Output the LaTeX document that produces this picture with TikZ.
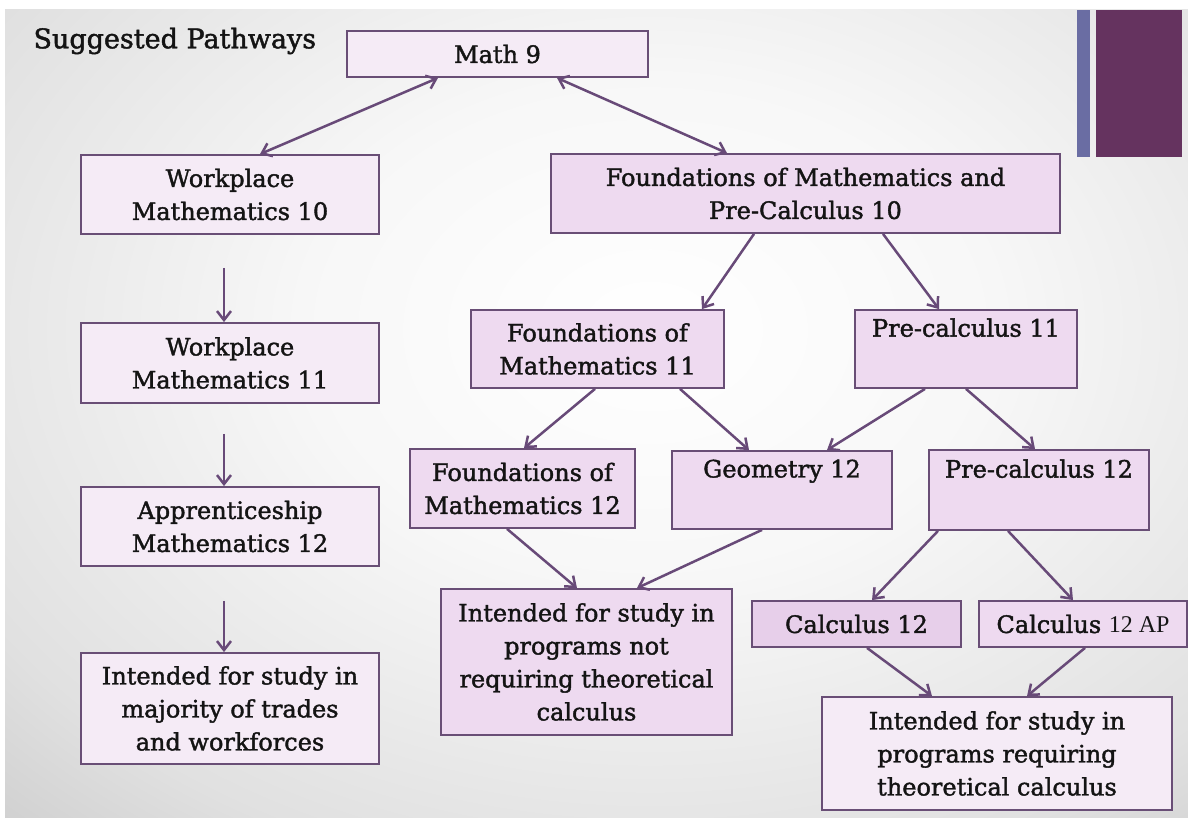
\documentclass[tikz,border=0pt]{standalone}
\usepackage{fontspec}
\setmainfont{DejaVu Serif}[FakeBold=1.6]
\newfontfamily\apfont{Liberation Serif}
\usepackage{tikz}
\usetikzlibrary{arrows.meta}
\definecolor{boxline}{RGB}{105,78,118}
\definecolor{boxfill}{RGB}{238,218,240}
\definecolor{lightfill}{RGB}{245,235,246}
\definecolor{darkfill}{RGB}{231,207,234}
\definecolor{arrowc}{RGB}{104,74,120}
\definecolor{barblue}{RGB}{106,109,163}
\definecolor{barpurple}{RGB}{101,51,95}
\pgfdeclareradialshading{slidebg}{\pgfpoint{0bp}{0bp}}{color(0bp)=(white); color(10bp)=(black!3); color(22.5bp)=(black!12); color(35bp)=(black!28); color(50bp)=(black!44)}

\begin{document}
\begin{tikzpicture}[x=1pt,y=-1pt,>={Straight Barb[length=9pt,width=14pt]},
		pathbox/.style={draw=boxline,line width=1.8pt,fill=boxfill,inner sep=0pt,align=center,text=black!92,font=\fontsize{24}{33}\selectfont},
		lightbox/.style={pathbox,fill=lightfill},
		flow/.style={draw=arrowc,line width=2.5pt,->}]
		\useasboundingbox (0,0) rectangle (1188,818);
		\fill[white] (0,0) rectangle (1188,818);
		\begin{scope}
			\clip (5,10) rectangle (1188,818);
			\shade[shading=slidebg] (-210,-290) rectangle (1510,950);
		\end{scope}
		\fill[barblue] (1077,10) rectangle (1090,157);
		\fill[barpurple] (1096,10) rectangle (1182,157);
		\node[anchor=west,text=black!92,font=\fontsize{27}{30}\selectfont] (title) at (30,41) {Suggested Pathways};
		\node[lightbox,minimum width=301pt,minimum height=46pt] (math9) at (497.5,54) {Math 9};
		\node[lightbox,minimum width=298pt,minimum height=79pt] (wm10) at (230,194.5) {Workplace\\Mathematics 10};
		\node[pathbox,minimum width=509pt,minimum height=79pt] (fpc10) at (805.5,193.5) {Foundations of Mathematics and\\Pre-Calculus 10};
		\node[lightbox,minimum width=298pt,minimum height=80pt] (wm11) at (230,363) {Workplace\\Mathematics 11};
		\node[pathbox,minimum width=253pt,minimum height=78pt] (fom11) at (597.5,349) {Foundations of\\Mathematics 11};
		\node[pathbox,minimum width=222pt,minimum height=78pt] (pc11) at (966,349) {Pre-calculus 11\\\strut};
		\node[lightbox,minimum width=298pt,minimum height=79pt] (app12) at (230,526.5) {Apprenticeship\\Mathematics 12};
		\node[pathbox,minimum width=225pt,minimum height=79pt] (fom12) at (522.5,488.5) {Foundations of\\Mathematics 12};
		\node[pathbox,minimum width=220pt,minimum height=78pt] (geo12) at (782,490) {Geometry 12\\\strut};
		\node[pathbox,minimum width=220pt,minimum height=80pt] (pc12) at (1039,490) {Pre-calculus 12\\\strut};
		\node[pathbox,minimum width=291pt,minimum height=146pt] (intnot) at (586.5,662) {Intended for study in\\programs not\\requiring theoretical\\calculus};
		\node[pathbox,fill=darkfill,minimum width=209pt,minimum height=46pt] (calc12) at (856.5,624) {Calculus 12};
		\node[pathbox,minimum width=208pt,minimum height=46pt] (calcap) at (1083,624) {Calculus {\apfont 12 AP}};
		\node[lightbox,minimum width=298pt,minimum height=111pt] (inttrades) at (230,708.5) {Intended for study in\\majority of trades\\and workforces};
		\node[pathbox,fill=lightfill,minimum width=350pt,minimum height=113pt] (intreq) at (997,753.5) {Intended for study in\\programs requiring\\theoretical calculus};
		\draw[flow,<->] ([xshift=-59.5pt]math9.south) -- ([xshift=30pt]wm10.north);
		\draw[flow,<->] ([xshift=59.5pt]math9.south) -- ([xshift=-78.5pt]fpc10.north);
		\draw[flow,shorten <=33pt] ([xshift=-6pt]wm10.south) -- ([xshift=-6pt]wm11.north);
		\draw[flow,shorten <=30pt] ([xshift=-6pt]wm11.south) -- ([xshift=-6pt]app12.north);
		\draw[flow,shorten <=34pt] ([xshift=-6pt]app12.south) -- ([xshift=-6pt]inttrades.north);
		\draw[flow] ([xshift=-51.5pt]fpc10.south) -- ([xshift=104.5pt]fom11.north);
		\draw[flow] ([xshift=77.5pt]fpc10.south) -- ([xshift=-27pt]pc11.north);
		\draw[flow] ([xshift=-2.5pt]fom11.south) -- ([xshift=1.5pt]fom12.north);
		\draw[flow] ([xshift=82.5pt]fom11.south) -- ([xshift=-33pt]geo12.north);
		\draw[flow] ([xshift=-41pt]pc11.south) -- ([xshift=45pt]geo12.north);
		\draw[flow] (pc11.south) -- ([xshift=-4pt]pc12.north);
		\draw[flow] ([xshift=-15.5pt]fom12.south) -- ([xshift=-9.5pt]intnot.north);
		\draw[flow] ([xshift=-20pt]geo12.south) -- ([xshift=50.5pt]intnot.north);
		\draw[flow] ([xshift=-101pt]pc12.south) -- ([xshift=15.5pt]calc12.north);
		\draw[flow] ([xshift=-31pt]pc12.south) -- ([xshift=-10pt]calcap.north);
		\draw[flow] ([xshift=10.5pt]calc12.south) -- ([xshift=-65pt]intreq.north);
		\draw[flow] ([xshift=2pt]calcap.south) -- ([xshift=30pt]intreq.north);
	\end{tikzpicture}
\end{document}
